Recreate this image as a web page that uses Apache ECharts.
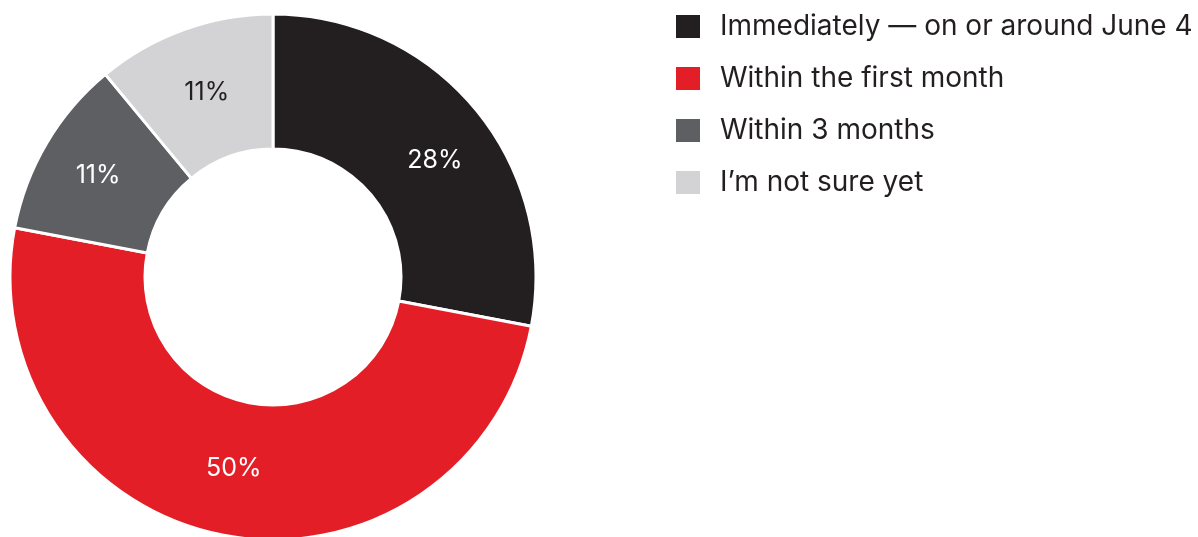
<!DOCTYPE html>
<html>
<head>
<meta charset="utf-8">
<style>
html,body{margin:0;padding:0;background:#fff;}
#chart{width:1198px;height:537px;}
</style>
<script src="https://cdn.jsdelivr.net/npm/echarts@6/dist/echarts.min.js"></script>
</head>
<body>
<div id="chart"></div>
<script>
const categories = ['Immediately — on or around June 4', 'Within the first month', 'Within 3 months', 'I’m not sure yet'];
const values = [28, 50, 11, 11];
const colors = ['#231f20', '#e31e27', '#5e5f63', '#d3d3d5'];
const labelColors = ['#ffffff', '#ffffff', '#ffffff', '#231f20'];
const labelOffsets = [[9, 10], [-2, -3], [-4, 0], [1, 2]];

const chart = echarts.init(document.getElementById('chart'), null, {renderer: 'canvas'});
chart.setOption({
  animation: false,
  color: colors,
  legend: {
    orient: 'vertical',
    left: 674,
    top: 12.5,
    padding: 0,
    itemWidth: 26,
    itemHeight: 25,
    itemGap: 24,
    icon: 'rect',
    selectedMode: false,
    data: categories,
    textStyle: {
      fontFamily: 'Inter',
      fontSize: 28,
      color: '#231f20',
      padding: [0, 0, 0, 14]
    }
  },
  series: [{
    type: 'pie',
    center: [273, 277],
    radius: [128, 263],
    startAngle: 90,
    clockwise: true,
    avoidLabelOverlap: false,
    silent: true,
    itemStyle: {borderColor: '#ffffff', borderWidth: 3},
    label: {
      show: true,
      position: 'inside',
      formatter: '{c}%',
      fontFamily: 'Inter',
      fontSize: 25
    },
    labelLine: {show: false},
    data: categories.map((name, i) => ({
      name: name,
      value: values[i],
      label: {color: labelColors[i], offset: labelOffsets[i]}
    }))
  }]
});
</script>
</body>
</html>
